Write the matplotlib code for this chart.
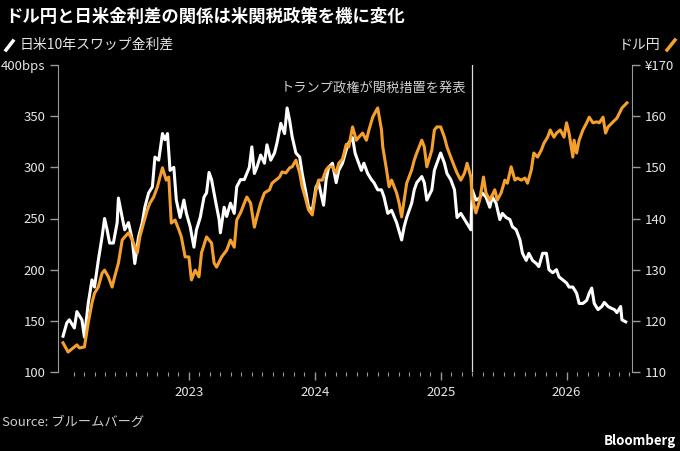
import matplotlib
matplotlib.use('Agg')
import matplotlib.pyplot as plt
from matplotlib.lines import Line2D
import numpy as np

plt.rcParams['font.family'] = ['Noto Sans CJK JP', 'DejaVu Sans']

# 日米10年スワップ金利差 (bps), decimal years
swap_t = [2022.00, 2022.03, 2022.05, 2022.09, 2022.11, 2022.15, 2022.17, 2022.20, 2022.23, 2022.25,
          2022.28, 2022.31, 2022.33, 2022.35, 2022.37, 2022.40, 2022.43, 2022.44, 2022.47, 2022.49,
          2022.52, 2022.55, 2022.57, 2022.60, 2022.63, 2022.65, 2022.68, 2022.71, 2022.73, 2022.76,
          2022.79, 2022.81, 2022.83, 2022.85, 2022.88, 2022.90, 2022.93, 2022.96, 2022.98, 2023.01,
          2023.04, 2023.06, 2023.09, 2023.12, 2023.14, 2023.16, 2023.18, 2023.21, 2023.24, 2023.25,
          2023.28, 2023.30, 2023.33, 2023.36, 2023.38, 2023.41, 2023.44, 2023.46, 2023.48, 2023.50,
          2023.52, 2023.54, 2023.57, 2023.60, 2023.62, 2023.65, 2023.68, 2023.70, 2023.73, 2023.76,
          2023.78, 2023.80, 2023.82, 2023.85, 2023.88, 2023.90, 2023.93, 2023.95, 2023.98, 2024.01,
          2024.03, 2024.07, 2024.09, 2024.11, 2024.14, 2024.17, 2024.19, 2024.22, 2024.25, 2024.27,
          2024.30, 2024.32, 2024.34, 2024.37, 2024.39, 2024.42, 2024.45, 2024.47, 2024.50, 2024.53,
          2024.55, 2024.58, 2024.61, 2024.63, 2024.65, 2024.69, 2024.71, 2024.73, 2024.77, 2024.79,
          2024.81, 2024.85, 2024.87, 2024.89, 2024.93, 2024.95, 2024.97, 2025.00, 2025.03, 2025.05,
          2025.08, 2025.11, 2025.13, 2025.16, 2025.19, 2025.21, 2025.24, 2025.25, 2025.28, 2025.31,
          2025.33, 2025.36, 2025.39, 2025.41, 2025.44, 2025.47, 2025.49, 2025.52, 2025.55, 2025.57,
          2025.60, 2025.63, 2025.65, 2025.68, 2025.70, 2025.73, 2025.76, 2025.78, 2025.81, 2025.84,
          2025.86, 2025.89, 2025.92, 2025.94, 2025.97, 2026.00, 2026.02, 2026.05, 2026.08, 2026.10,
          2026.13, 2026.16, 2026.18, 2026.20, 2026.22, 2026.25, 2026.28, 2026.30, 2026.33, 2026.36,
          2026.38, 2026.40, 2026.43, 2026.44, 2026.47]
swap_bps = [135, 148, 151, 143, 159, 151, 134, 167, 190, 183,
            209, 232, 250, 239, 226, 226, 246, 270, 251, 239,
            246, 229, 206, 232, 246, 261, 275, 281, 310, 307,
            333, 327, 333, 297, 300, 268, 251, 268, 255, 242,
            222, 239, 251, 271, 275, 295, 288, 268, 249, 236,
            261, 252, 265, 255, 281, 288, 288, 294, 300, 320,
            294, 300, 312, 304, 322, 307, 314, 324, 343, 333,
            358, 346, 330, 314, 310, 294, 275, 261, 258, 281,
            285, 263, 288, 300, 304, 285, 297, 304, 317, 324,
            329, 314, 307, 297, 304, 294, 288, 285, 278, 278,
            271, 255, 258, 252, 246, 229, 242, 251, 265, 278,
            285, 291, 285, 268, 278, 297, 304, 314, 304, 294,
            288, 278, 251, 255, 249, 245, 239, 278, 268, 270,
            275, 271, 261, 271, 265, 249, 255, 251, 249, 242,
            239, 229, 216, 209, 216, 209, 206, 203, 216, 216,
            200, 197, 200, 193, 190, 187, 183, 183, 177, 167,
            167, 170, 177, 182, 167, 161, 164, 168, 164, 162,
            161, 158, 164, 151, 149]

# ドル円 (yen per dollar)
usdjpy_t = [2022.00, 2022.04, 2022.09, 2022.11, 2022.13, 2022.17, 2022.20, 2022.23, 2022.25, 2022.28,
            2022.31, 2022.33, 2022.36, 2022.39, 2022.41, 2022.44, 2022.47, 2022.49, 2022.52, 2022.55,
            2022.59, 2022.61, 2022.64, 2022.67, 2022.69, 2022.72, 2022.75, 2022.77, 2022.79, 2022.82,
            2022.84, 2022.86, 2022.89, 2022.92, 2022.94, 2022.97, 2023.00, 2023.02, 2023.05, 2023.08,
            2023.10, 2023.14, 2023.18, 2023.20, 2023.22, 2023.26, 2023.30, 2023.33, 2023.36, 2023.38,
            2023.41, 2023.44, 2023.46, 2023.49, 2023.52, 2023.54, 2023.57, 2023.60, 2023.64, 2023.66,
            2023.69, 2023.72, 2023.74, 2023.77, 2023.80, 2023.82, 2023.85, 2023.88, 2023.90, 2023.93,
            2023.95, 2023.98, 2024.01, 2024.03, 2024.06, 2024.09, 2024.11, 2024.14, 2024.17, 2024.19,
            2024.22, 2024.25, 2024.27, 2024.30, 2024.33, 2024.35, 2024.38, 2024.41, 2024.43, 2024.46,
            2024.49, 2024.50, 2024.53, 2024.54, 2024.57, 2024.59, 2024.61, 2024.65, 2024.67, 2024.69,
            2024.71, 2024.73, 2024.77, 2024.79, 2024.81, 2024.85, 2024.87, 2024.89, 2024.93, 2024.95,
            2024.97, 2025.00, 2025.03, 2025.05, 2025.08, 2025.11, 2025.13, 2025.16, 2025.19, 2025.21,
            2025.24, 2025.25, 2025.28, 2025.31, 2025.34, 2025.36, 2025.39, 2025.43, 2025.45, 2025.48,
            2025.51, 2025.53, 2025.56, 2025.59, 2025.61, 2025.64, 2025.67, 2025.69, 2025.72, 2025.74,
            2025.77, 2025.80, 2025.82, 2025.85, 2025.87, 2025.90, 2025.92, 2025.95, 2025.98, 2026.00,
            2026.02, 2026.05, 2026.06, 2026.08, 2026.10, 2026.13, 2026.16, 2026.18, 2026.21, 2026.24,
            2026.26, 2026.29, 2026.31, 2026.33, 2026.37, 2026.40, 2026.42, 2026.44, 2026.48]
usdjpy = [115.7, 113.9, 114.9, 115.3, 114.7, 114.9, 119.6, 123.5, 125.4, 126.6,
          129.3, 129.9, 128.6, 126.6, 128.6, 131.3, 135.8, 136.4, 137.2, 135.8,
          133.3, 136.4, 139.1, 141.7, 143.0, 144.2, 146.2, 148.1, 149.9, 147.5,
          148.1, 139.1, 139.7, 137.8, 136.4, 132.5, 132.5, 128.0, 129.9, 128.6,
          133.3, 136.4, 135.2, 131.3, 130.5, 132.5, 133.8, 135.8, 134.4, 139.7,
          141.1, 143.0, 144.2, 143.0, 138.3, 140.3, 143.0, 145.0, 145.6, 146.9,
          147.5, 148.1, 149.1, 148.9, 149.9, 150.1, 151.4, 148.9, 146.2, 143.6,
          141.7, 140.7, 145.6, 147.5, 147.5, 149.5, 150.1, 150.1, 148.9, 150.8,
          151.6, 154.5, 154.0, 157.9, 155.3, 155.9, 156.7, 155.3, 157.3, 159.8,
          161.2, 161.6, 157.3, 154.0, 149.5, 146.2, 147.5, 145.0, 143.0, 140.3,
          143.6, 146.9, 149.5, 151.4, 152.8, 155.3, 154.0, 150.1, 153.4, 157.3,
          157.9, 157.9, 155.9, 154.0, 152.0, 150.1, 148.9, 147.5, 148.9, 150.8,
          148.1, 144.2, 141.1, 143.6, 148.1, 145.0, 143.6, 145.6, 143.6, 145.0,
          147.5, 146.9, 150.1, 147.5, 147.9, 147.5, 147.9, 146.9, 149.5, 152.8,
          152.0, 153.4, 154.7, 155.9, 157.3, 155.9, 156.7, 157.3, 155.9, 158.7,
          156.7, 152.0, 155.3, 152.8, 155.3, 157.3, 158.7, 159.8, 158.7, 158.9,
          158.7, 159.8, 156.7, 157.9, 158.9, 159.6, 160.6, 161.6, 162.6]

year_labels = [2023, 2024, 2025, 2026]
tariff_t = 2025.25

bg = 'black'
fg = '#e6e6e6'
grey = '#9a9a9a'
orange = '#f5a02c'

fig = plt.figure(figsize=(6.8, 4.51), dpi=100, facecolor=bg)
ax = fig.add_axes([58 / 680, 1 - 372 / 451, (632 - 58) / 680, (372 - 65) / 451])
ax.set_facecolor(bg)
ax2 = ax.twinx()

ax.plot(swap_t, swap_bps, color='white', lw=2.2, solid_joinstyle='round')
ax2.plot(usdjpy_t, usdjpy, color=orange, lw=2.2, solid_joinstyle='round')

ax.axvline(tariff_t, color='#dddddd', lw=0.9)
ax.text(tariff_t - 0.05, 377, 'トランプ政権が関税措置を発表', color='#cfcfcf',
        fontsize=9.5, ha='right', va='center')

ax.set_xlim(2021.96, 2026.52)
ax.set_ylim(100, 400)
ax2.set_ylim(110, 170)

ax.set_yticks(np.arange(100, 401, 50))
ax.set_yticklabels([str(v) for v in range(100, 400, 50)] + ['400bps'])
ax2.set_yticks(np.arange(110, 171, 10))
ax2.set_yticklabels([str(v) for v in range(110, 170, 10)] + ['¥170'])

ax.set_xticks(year_labels)
ax.set_xticklabels([str(y) for y in year_labels])
ax.set_xticks([2022 + m / 12 for m in range(1, 55)], minor=True)

for a in (ax, ax2):
    for s in ('top', 'bottom'):
        a.spines[s].set_visible(False)
    a.spines['left'].set_color(grey)
    a.spines['right'].set_color(grey)
    a.tick_params(colors=grey, labelcolor=fg, labelsize=9.5)
ax.spines['right'].set_visible(False)
ax2.spines['left'].set_visible(False)
ax.tick_params(axis='y', length=6, width=1, pad=3)
ax2.tick_params(axis='y', length=6, width=1, pad=3)
ax.tick_params(axis='x', which='major', length=6, width=1, pad=4)
ax.tick_params(axis='x', which='minor', length=3, width=0.8, colors=grey)

# title and legend
fig.text(5 / 680, 1 - 17 / 451, 'ドル円と日米金利差の関係は米関税政策を機に変化',
         color='white', fontsize=12.5, fontweight='bold', va='center', ha='left')
fig.add_artist(Line2D([6 / 680, 13 / 680], [1 - 50 / 451, 1 - 41 / 451],
                      color='white', lw=2.5, transform=fig.transFigure))
fig.text(20 / 680, 1 - 45 / 451, '日米10年スワップ金利差', color=fg, fontsize=10,
         va='center', ha='left')
fig.text(660 / 680, 1 - 45 / 451, 'ドル円', color=fg, fontsize=10,
         va='center', ha='right')
fig.add_artist(Line2D([667 / 680, 675 / 680], [1 - 50 / 451, 1 - 40 / 451],
                      color=orange, lw=2.5, transform=fig.transFigure))

fig.text(2 / 680, 1 - 422 / 451, 'Source: ブルームバーグ', color='#cfcfcf',
         fontsize=9.5, va='center', ha='left')
fig.text(676 / 680, 1 - 441 / 451, 'Bloomberg', color='white', fontsize=9.5,
         fontweight='bold', va='center', ha='right')

fig.savefig('out.png', dpi=100, facecolor=bg)
